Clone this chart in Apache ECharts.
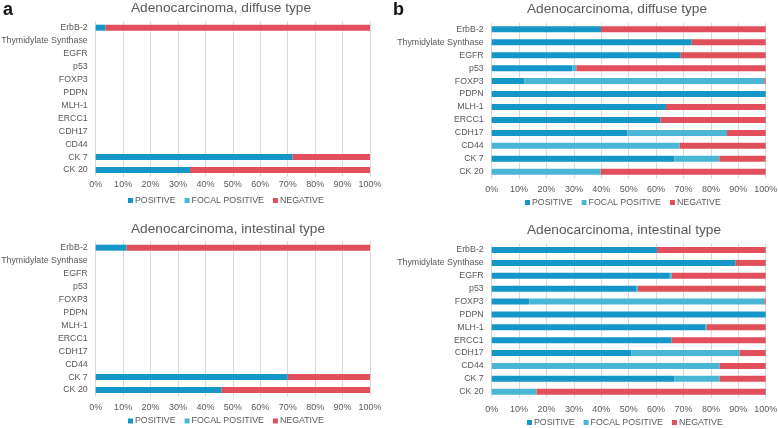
<!DOCTYPE html>
<html><head><meta charset="utf-8">
<script src="https://cdn.jsdelivr.net/npm/echarts@6/dist/echarts.min.js"></script>
<style>html,body{margin:0;padding:0;background:#fff}#c{width:778px;height:428px}</style>
</head><body><div id="c"></div>
<script>
const categories = ['ErbB-2','Thymidylate Synthase','EGFR','p53','FOXP3','PDPN','MLH-1','ERCC1','CDH17','CD44','CK 7','CK 20'];
const xTicks = [0,10,20,30,40,50,60,70,80,90,100];
const seriesNames = ['POSITIVE','FOCAL POSITIVE','NEGATIVE'];

const aDiffusePositive    = [3.6, null,null,null,null,null,null,null,null,null, 71.8, 34.4];
const aDiffuseFocal       = [null,null,null,null,null,null,null,null,null,null,null,null];
const aDiffuseNegative    = [96.4,null,null,null,null,null,null,null,null,null, 28.2, 65.6];

const aIntestinalPositive = [11.3,null,null,null,null,null,null,null,null,null, 70.0, 45.9];
const aIntestinalFocal    = [null,null,null,null,null,null,null,null,null,null,null,null];
const aIntestinalNegative = [88.7,null,null,null,null,null,null,null,null,null, 30.0, 54.1];

const bDiffusePositive    = [39.9, 73.0, 69.0, 29.4, 12.0, 100, 63.6, 61.6, 49.6, 0, 66.7, 0];
const bDiffuseFocal       = [0, 0, 0, 1.5, 87.5, 0, 0, 0, 36.3, 68.6, 16.4, 39.8];
const bDiffuseNegative    = [60.1, 27.0, 31.0, 69.1, 0.5, 0, 36.4, 38.4, 14.1, 31.4, 16.9, 60.2];

const bIntestinalPositive = [60.3, 89.0, 65.0, 52.9, 13.7, 100, 78.1, 65.6, 50.9, 0, 66.6, 0];
const bIntestinalFocal    = [0, 0, 0.7, 0.5, 85.8, 0, 0.4, 0, 39.6, 83.2, 16.6, 16.4];
const bIntestinalNegative = [39.7, 11.0, 34.3, 46.6, 0.5, 0, 21.5, 34.4, 9.5, 16.8, 16.8, 83.6];

const colors = ['#1496c8', '#4ab6d6', '#e1505a'];
const textColor = '#595959';
const font = 'Liberation Sans';

const panels = [
  {title:'Adenocarcinoma, diffuse type', data:[aDiffusePositive,aDiffuseFocal,aDiffuseNegative],
   grid:{left:95.7, right:408, top:21.2, height:155.3}, labelMargin:4, titlePos:[221,8], legendPos:[128,196]},
  {title:'Adenocarcinoma, diffuse type', data:[bDiffusePositive,bDiffuseFocal,bDiffuseNegative],
   grid:{left:491.7, right:12.3, top:22.8, height:155.4}, labelMargin:7, titlePos:[617,9], legendPos:[525,198]},
  {title:'Adenocarcinoma, intestinal type', data:[aIntestinalPositive,aIntestinalFocal,aIntestinalNegative],
   grid:{left:95.7, right:408, top:241.2, height:155.3}, labelMargin:7, titlePos:[228,229], legendPos:[128,416.5]},
  {title:'Adenocarcinoma, intestinal type', data:[bIntestinalPositive,bIntestinalFocal,bIntestinalNegative],
   grid:{left:491.7, right:12.3, top:243.6, height:154.5}, labelMargin:6.5, titlePos:[624,230], legendPos:[527,418]}
];

const option = {
  animation:false,
  color:colors,
  textStyle:{fontFamily:font},
  title:[], grid:[], xAxis:[], yAxis:[], legend:[], series:[],
  graphic:[
    {type:'text', left:3, top:1, style:{text:'a', fontSize:18, fontWeight:'bold', fill:'#111', fontFamily:font}},
    {type:'text', left:393, top:1, style:{text:'b', fontSize:18, fontWeight:'bold', fill:'#111', fontFamily:font}}
  ]
};

panels.forEach((p,i)=>{
  option.graphic.push({type:'text', x:p.titlePos[0], y:p.titlePos[1],
    style:{text:p.title, fontSize:13.7, fill:textColor, fontFamily:font, align:'center', verticalAlign:'middle'}});
  option.grid.push(Object.assign({containLabel:false, outerBoundsMode:'none'}, p.grid));
  option.xAxis.push({type:'value', gridIndex:i, min:0, max:100, interval:10,
    axisLine:{show:false}, axisTick:{show:false},
    axisLabel:{formatter:v=>v+'%', color:textColor, fontSize:9, margin:p.labelMargin, fontFamily:font},
    splitLine:{show:true, lineStyle:{color:'#d9d9d9', width:1}}});
  option.yAxis.push({type:'category', gridIndex:i, data:categories, inverse:true,
    axisLine:{show:false}, axisTick:{show:false},
    axisLabel:{color:textColor, fontSize:8.8, margin:8, interval:0, fontFamily:font}});
  option.legend.push({left:p.legendPos[0], top:p.legendPos[1], padding:0, itemWidth:5, itemHeight:5, icon:'rect', itemGap:9,
    data:seriesNames, textStyle:{color:textColor, fontSize:8.8, fontFamily:font, padding:[0,0,0,-3]}});
  seriesNames.forEach((n,k)=>{
    option.series.push({type:'bar', name:n, xAxisIndex:i, yAxisIndex:i, stack:'s'+i,
      barWidth:6, data:p.data[k], itemStyle:{color:colors[k]}});
  });
});

const chart = echarts.init(document.getElementById('c'), null, {renderer:'canvas'});
chart.setOption(option);
</script></body></html>
